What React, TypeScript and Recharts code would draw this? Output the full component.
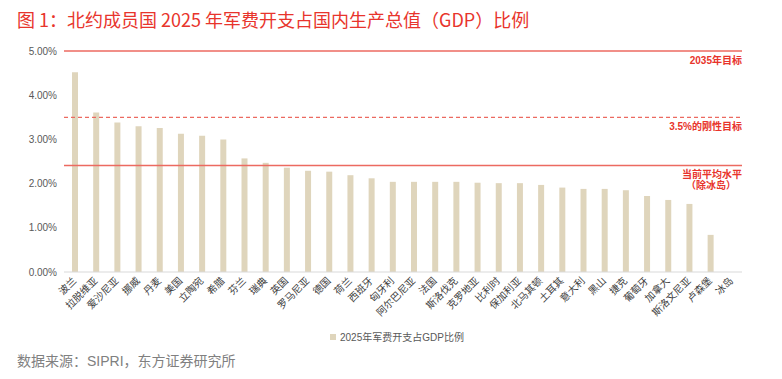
import React from "react";
import { BarChart, Bar, XAxis, YAxis, ReferenceLine } from "recharts";

const countries = [
  "波兰", "拉脱维亚", "爱沙尼亚", "挪威", "丹麦", "美国", "立陶宛", "希腊",
  "芬兰", "瑞典", "英国", "罗马尼亚", "德国", "荷兰", "西班牙", "匈牙利",
  "阿尔巴尼亚", "法国", "斯洛伐克", "克罗地亚", "比利时", "保加利亚", "北马其顿", "土耳其",
  "意大利", "黑山", "捷克", "葡萄牙", "加拿大", "斯洛文尼亚", "卢森堡", "冰岛",
];

// % of GDP
const shares = [
  4.52, 3.61, 3.38, 3.3, 3.26, 3.13, 3.08, 3.0,
  2.57, 2.47, 2.36, 2.29, 2.27, 2.19, 2.12, 2.04,
  2.04, 2.04, 2.04, 2.02, 2.01, 2.01, 1.97, 1.91,
  1.88, 1.88, 1.85, 1.72, 1.63, 1.54, 0.84, 0,
];

const yTicks = [0, 1, 2, 3, 4, 5];

const target2035 = 5;
const hardTarget = 3.5;
const currentAvg = 2.41;

const data = countries.map((name, i) => ({ name, share: shares[i] }));

const FONT = '"Liberation Sans", "Noto Sans CJK SC", sans-serif';
const RED = "#e8342c";
const LINE_RED = "#ec6a60";

function XTick(props: any) {
  const { x, y, payload } = props;
  return (
    <g transform={`translate(${x},${y + 7})`}>
      <text
        x={0}
        y={0}
        dy="0.35em"
        textAnchor="end"
        transform="rotate(-45)"
        fill="#404040"
        fontSize={10}
        fontFamily={FONT}
      >
        {payload.value}
      </text>
    </g>
  );
}

function LineLabel(props: any) {
  const { viewBox, lines } = props;
  const right = viewBox.x + viewBox.width;
  return (
    <text fill={RED} fontSize={10} fontWeight="bold" fontFamily={FONT}>
      {lines.map((t: string, i: number) => (
        <tspan
          key={i}
          x={i === 0 ? right : right - 31}
          y={viewBox.y + 13 + i * 11}
          textAnchor={i === 0 ? "end" : "middle"}
        >
          {t}
        </tspan>
      ))}
    </text>
  );
}

export default function App() {
  return (
    <div
      style={{
        position: "relative",
        width: 782,
        height: 379,
        margin: -8,
        background: "#fff",
        overflow: "hidden",
        fontFamily: FONT,
      }}
    >
      <div style={{ position: "absolute", left: 5, top: 3, width: 772, height: 2, background: "#f08a84" }} />
      <div
        style={{
          position: "absolute",
          left: 17,
          top: 8,
          fontSize: 18,
          lineHeight: "22px",
          color: RED,
          whiteSpace: "nowrap",
          fontFamily: '"Liberation Sans Narrow", "Noto Sans CJK SC", sans-serif',
        }}
      >
        图 1：北约成员国 2025 年军费开支占国内生产总值（GDP）比例
      </div>

      <div style={{ position: "absolute", left: 0, top: 0 }}>
        <BarChart
          width={782}
          height={379}
          data={data}
          margin={{ top: 51, right: 40, left: 0, bottom: 47 }}
          barSize={6}
        >
          <XAxis
            dataKey="name"
            interval={0}
            height={60}
            tickLine={false}
            tickSize={0}
            tickMargin={0}
            axisLine={{ stroke: "#d9d9d9" }}
            tick={<XTick />}
          />
          <YAxis
            width={64}
            domain={[0, 5]}
            ticks={yTicks}
            tickFormatter={(v: number) => v.toFixed(2) + "%"}
            axisLine={false}
            tickLine={false}
            tickSize={0}
            tickMargin={7}
            tick={{ fill: "#595959", fontSize: 10, fontFamily: FONT }}
          />
          <Bar dataKey="share" fill="#dfd5bc" isAnimationActive={false} />
          <ReferenceLine
            y={target2035}
            stroke={LINE_RED}
            strokeWidth={1.3}
            label={<LineLabel lines={["2035年目标"]} />}
          />
          <ReferenceLine
            y={hardTarget}
            stroke={LINE_RED}
            strokeDasharray="4 3"
            strokeWidth={1.3}
            label={<LineLabel lines={["3.5%的刚性目标"]} />}
          />
          <ReferenceLine
            y={currentAvg}
            stroke={LINE_RED}
            strokeWidth={1.3}
            label={<LineLabel lines={["当前平均水平", "（除冰岛）"]} />}
          />
        </BarChart>
      </div>

      <div
        style={{
          position: "absolute",
          left: 330,
          top: 329,
          display: "flex",
          alignItems: "center",
          fontSize: 10,
          color: "#595959",
          whiteSpace: "nowrap",
        }}
      >
        <span style={{ display: "inline-block", width: 6, height: 6, background: "#dfd5bc", marginRight: 4 }} />
        2025年军费开支占GDP比例
      </div>

      <div
        style={{
          position: "absolute",
          left: 17,
          top: 352,
          fontSize: 14,
          lineHeight: "18px",
          color: "#808080",
          whiteSpace: "nowrap",
        }}
      >
        数据来源：SIPRI，东方证券研究所
      </div>
      <div style={{ position: "absolute", left: 5, top: 371, width: 771, height: 2, background: "#e8261f" }} />
    </div>
  );
}
